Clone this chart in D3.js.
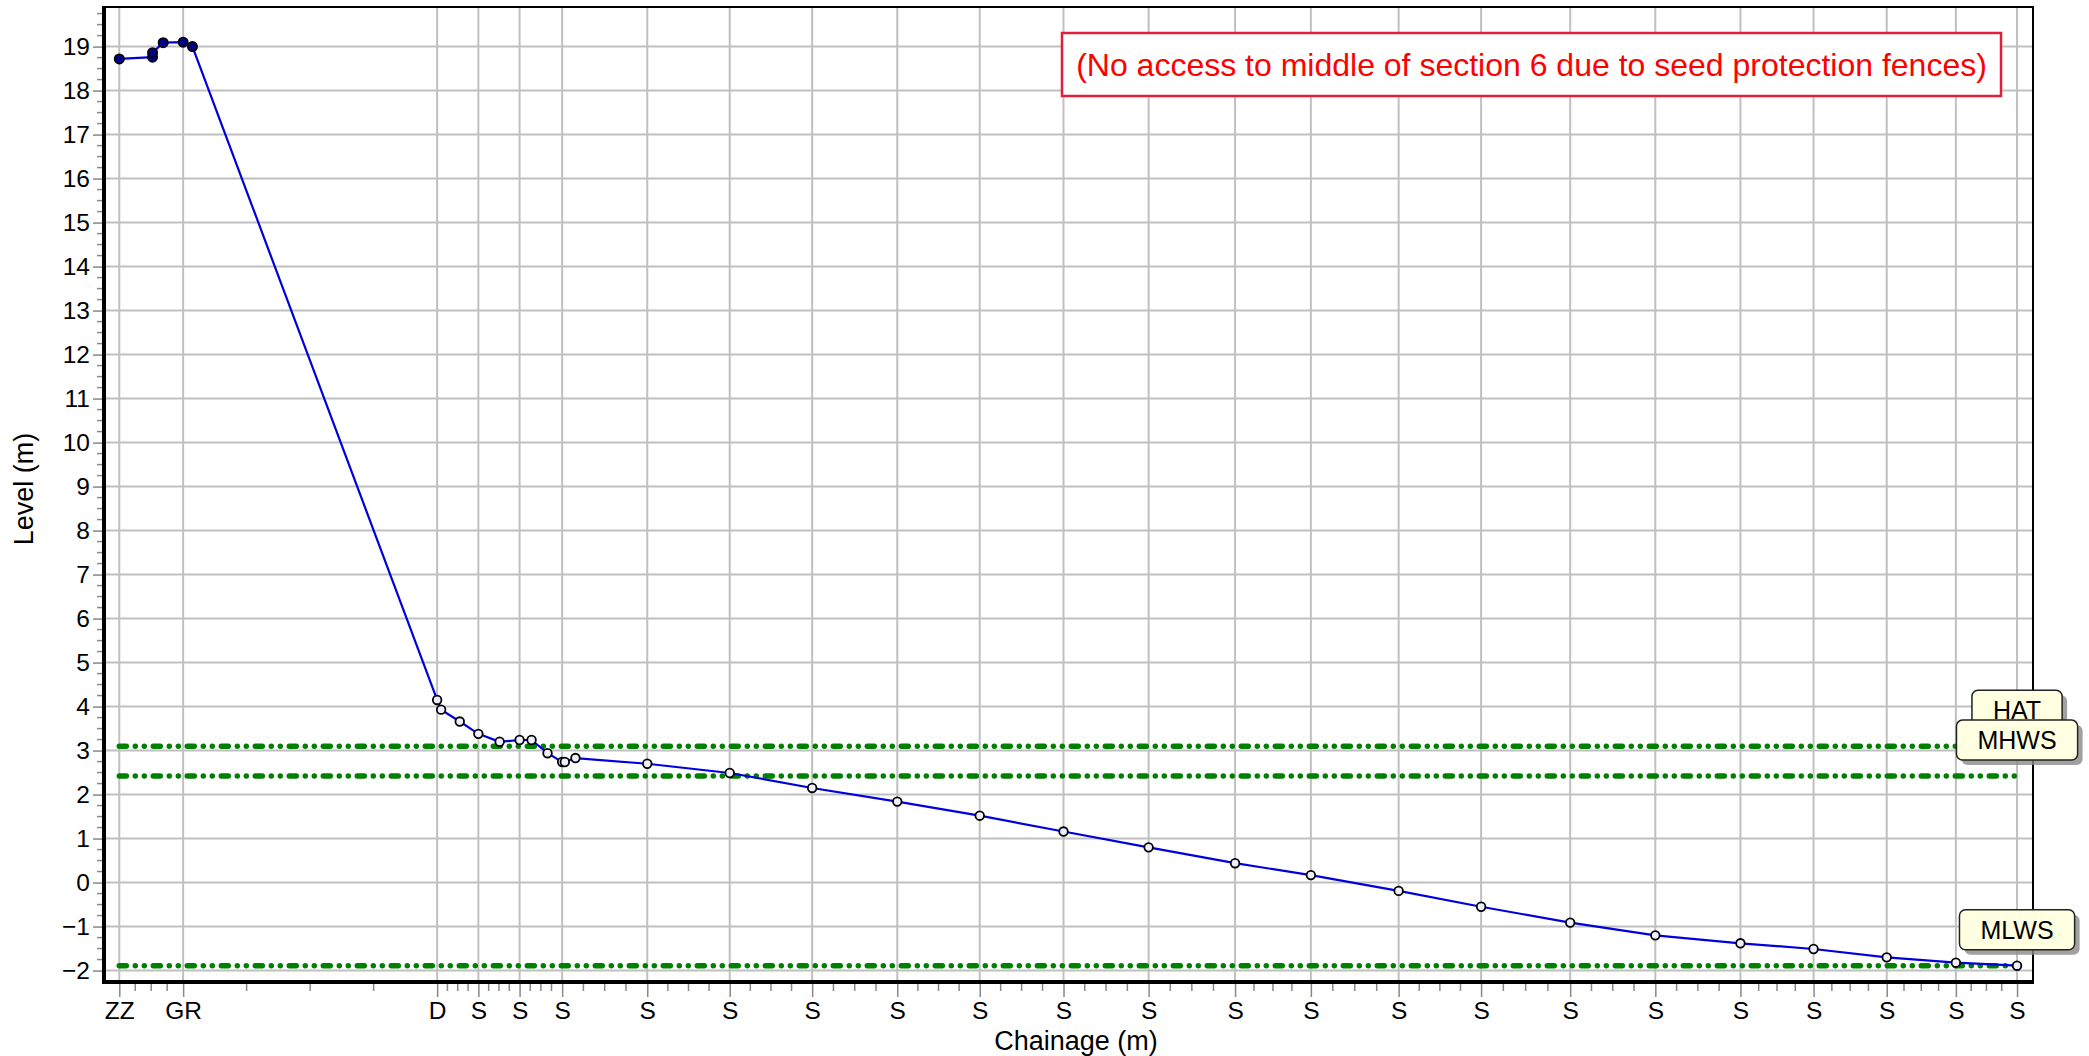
<!DOCTYPE html>
<html><head><meta charset="utf-8">
<script src="https://cdn.jsdelivr.net/npm/d3@7"></script>
<style>
html,body{margin:0;padding:0;background:#fff;}
svg{display:block;font-family:"Liberation Sans",Arial,sans-serif;}
</style>
</head><body>
<svg id="chart" width="2089" height="1056"></svg>
<script>
// ---- data ----
const landChainage = [0, 2.5, 2.5, 3.3, 4.8, 5.5];
const landLevel    = [18.72, 18.76, 18.86, 19.09, 19.10, 19.00];
const landCode     = ["ZZ", "", "", "", "GR", ""];

const beachChainage = [23.9, 24.2, 25.6, 27.0, 28.6, 30.1, 31.0, 32.2, 33.3, 33.5, 34.3,
  39.7, 45.9, 52.1, 58.5, 64.7, 71.0, 77.4, 83.9, 89.6, 96.2, 102.4, 109.1, 115.5, 121.9,
  127.4, 132.9, 138.1, 142.7];
const beachLevel = [4.15, 3.93, 3.66, 3.38, 3.20, 3.24, 3.24, 2.94, 2.74, 2.74, 2.83,
  2.70, 2.49, 2.15, 1.84, 1.52, 1.16, 0.80, 0.44, 0.17, -0.19, -0.55, -0.91, -1.20, -1.38,
  -1.51, -1.70, -1.82, -1.89];
const beachCode = ["D", "", "", "S", "", "S", "", "", "S", "", "",
  "S", "S", "S", "S", "S", "S", "S", "S", "S", "S", "S", "S", "S", "S",
  "S", "S", "S", "S"];

const tideNames  = ["HAT", "MHWS", "MLWS"];
const tideLevels = [3.10, 2.42, -1.89];

const levelTicks = [-2, -1, 0, 1, 2, 3, 4, 5, 6, 7, 8, 9, 10, 11, 12, 13, 14, 15, 16, 17, 18, 19];
const note = "(No access to middle of section 6 due to seed protection fences)";
const xTitle = "Chainage (m)";
const yTitle = "Level (m)";

// ---- layout ----
const svg = d3.select("#chart");
const L = 104, R = 2033, T = 7, B = 982;
const x = d3.scaleLinear().domain([-1.15, 143.9]).range([L, R]);
const y = d3.scaleLinear().domain([-2.26, 19.9]).range([B, T]);

const land = landChainage.map((c, i) => ({c, v: landLevel[i], code: landCode[i]}));
const beach = beachChainage.map((c, i) => ({c, v: beachLevel[i], code: beachCode[i]}));
const all = land.concat(beach);
const labeled = all.filter(d => d.code !== "");

const grid = "#c0c0c0";
svg.append("g").selectAll("line").data(levelTicks).join("line")
  .attr("x1", L).attr("x2", R).attr("y1", d => y(d)).attr("y2", d => y(d))
  .attr("stroke", grid).attr("stroke-width", 2);
svg.append("g").selectAll("line").data(labeled).join("line")
  .attr("x1", d => x(d.c)).attr("x2", d => x(d.c)).attr("y1", T).attr("y2", B)
  .attr("stroke", grid).attr("stroke-width", 2);

// tide lines
const c0 = all[0].c, c1 = all[all.length - 1].c;
svg.append("g").selectAll("line").data(tideLevels).join("line")
  .attr("x1", x(c0)).attr("x2", x(c1)).attr("y1", d => y(d)).attr("y2", d => y(d))
  .attr("stroke", "#008000").attr("stroke-width", 5.5).attr("stroke-linecap", "round")
  .attr("stroke-dasharray", "7 9 0 9 0 9");

// profile line
const line = d3.line().x(d => x(d.c)).y(d => y(d.v));
svg.append("path").datum(all).attr("d", line)
  .attr("fill", "none").attr("stroke", "#0000dd").attr("stroke-width", 2.2);

// points
svg.append("g").selectAll("circle").data(beach).join("circle")
  .attr("cx", d => x(d.c)).attr("cy", d => y(d.v)).attr("r", 4.3)
  .attr("fill", "#eeeefc").attr("stroke", "#000").attr("stroke-width", 1.8);
svg.append("g").selectAll("circle").data(land).join("circle")
  .attr("cx", d => x(d.c)).attr("cy", d => y(d.v)).attr("r", 4.7)
  .attr("fill", "#000080").attr("stroke", "#000").attr("stroke-width", 1.6);

// frame
svg.append("line").attr("x1", L).attr("x2", R).attr("y1", T).attr("y2", T).attr("stroke", "#000").attr("stroke-width", 2);
svg.append("line").attr("x1", R).attr("x2", R).attr("y1", T - 1).attr("y2", B).attr("stroke", "#000").attr("stroke-width", 2);
svg.append("line").attr("x1", L).attr("x2", L).attr("y1", T - 1).attr("y2", B + 2).attr("stroke", "#000").attr("stroke-width", 4);
svg.append("line").attr("x1", L - 2).attr("x2", R + 1).attr("y1", B).attr("y2", B).attr("stroke", "#000").attr("stroke-width", 4);

const tickCol = "#888";
const yAxis = d3.axisLeft(y).tickValues(levelTicks).tickSize(9).tickPadding(3).tickFormat(d3.format("d"));
const gy = svg.append("g").attr("transform", `translate(${L - 2},0)`).call(yAxis);
gy.select(".domain").remove();
gy.selectAll(".tick line").attr("stroke", tickCol).attr("stroke-width", 1.5);
gy.selectAll(".tick text").attr("font-size", 24.5).attr("fill", "#000")
  .attr("font-family", '"Liberation Sans",Arial,sans-serif');
const yMinor = [];
for (let i = 0; i < levelTicks.length - 1; i++)
  for (let k = 1; k < 4; k++) yMinor.push(levelTicks[i] + (levelTicks[i + 1] - levelTicks[i]) * k / 4);
for (let k = 1; k < 4; k++) yMinor.push(19 + k / 4);
svg.append("g").selectAll("line").data(yMinor.filter(v => y(v) > T + 2)).join("line")
  .attr("x1", L - 7).attr("x2", L - 2).attr("y1", d => y(d)).attr("y2", d => y(d))
  .attr("stroke", tickCol).attr("stroke-width", 1.5);

const xAxis = d3.axisBottom(x).tickValues(labeled.map(d => d.c)).tickSize(13).tickPadding(5)
  .tickFormat((d, i) => labeled[i].code);
const gx = svg.append("g").attr("transform", `translate(0,${B + 2})`).call(xAxis);
gx.select(".domain").remove();
gx.selectAll(".tick line").attr("stroke", tickCol).attr("stroke-width", 1.5);
gx.selectAll(".tick text").attr("font-size", 24.5).attr("fill", "#000")
  .attr("font-family", '"Liberation Sans",Arial,sans-serif');
const xMinor = [];
for (let i = 0; i < labeled.length - 1; i++)
  for (let k = 1; k < 4; k++) xMinor.push(labeled[i].c + (labeled[i + 1].c - labeled[i].c) * k / 4);
svg.append("g").selectAll("line").data(xMinor).join("line")
  .attr("x1", d => x(d)).attr("x2", d => x(d)).attr("y1", B + 2).attr("y2", B + 9)
  .attr("stroke", tickCol).attr("stroke-width", 1.5);

// titles
svg.append("text").attr("x", 1076).attr("y", 1041).attr("text-anchor", "middle")
  .attr("dominant-baseline", "central").attr("font-size", 27).text(xTitle);
svg.append("text").attr("transform", "translate(24,489) rotate(-90)").attr("text-anchor", "middle")
  .attr("dominant-baseline", "central").attr("font-size", 27).text(yTitle);

// annotation
svg.append("rect").attr("x", 1062).attr("y", 33).attr("width", 939).attr("height", 63)
  .attr("fill", "#fff").attr("stroke", "#e0203a").attr("stroke-width", 2.5);
svg.append("text").attr("x", 1531.5).attr("y", 65).attr("text-anchor", "middle")
  .attr("dominant-baseline", "central").attr("font-size", 32).attr("fill", "#ff0000").text(note);

// tide labels
tideNames.forEach((name, i) => {
  const cx = x(c1), cy = y(tideLevels[i]) - 36;
  const g = svg.append("g");
  const t = g.append("text").attr("x", cx).attr("y", cy).attr("text-anchor", "middle")
    .attr("dominant-baseline", "central").attr("font-size", 25).attr("fill", "#000").text(name);
  const w = t.node().getComputedTextLength() + 42, h = 40;
  g.insert("rect", "text").attr("x", cx - w / 2 + 5).attr("y", cy - h / 2 + 5).attr("width", w).attr("height", h)
    .attr("rx", 6).attr("fill", "#8a8a8a").attr("opacity", 0.8);
  g.insert("rect", "text").attr("x", cx - w / 2).attr("y", cy - h / 2).attr("width", w).attr("height", h)
    .attr("rx", 6).attr("fill", "#ffffe1").attr("stroke", "#222").attr("stroke-width", 1.5);
});
</script>
</body></html>
